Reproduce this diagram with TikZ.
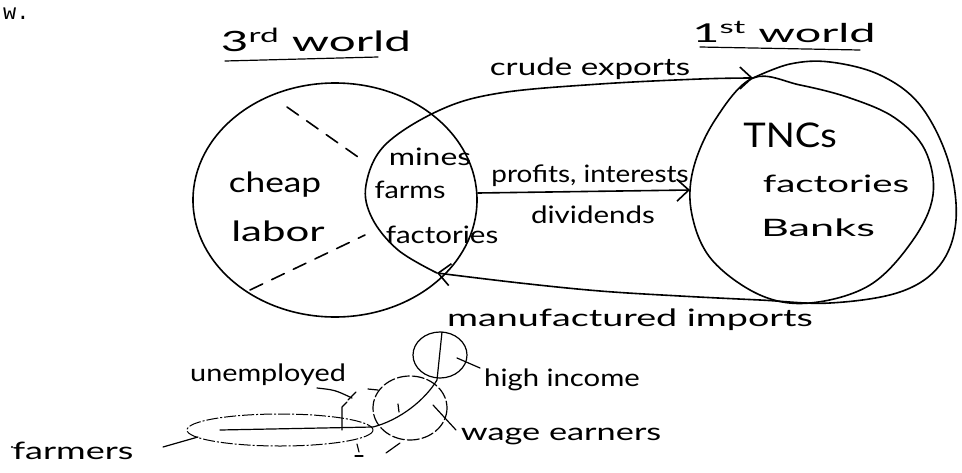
\documentclass[tikz,border=0pt]{standalone}
\usepackage{fontspec}
\setmainfont{Lato}
\newfontfamily\typefont{Liberation Mono}
\usetikzlibrary{arrows.meta}
\newcommand{\hs}[2]{\scalebox{#1}[1]{#2}}
\begin{document}
\begin{tikzpicture}[x=1pt,y=-1pt,
  pen/.style={line width=1.6pt, line cap=round, line join=round},
  thinpen/.style={line width=1.2pt, line cap=round, line join=round},
  lbl/.style={font=\fontsize{24}{26}\selectfont, inner sep=0pt},
  big/.style={font=\fontsize{34}{36}\selectfont, inner sep=0pt},
  tip/.style={-{Straight Barb[length=12pt,width=22pt,line width=1.6pt]}}
]
\useasboundingbox[fill=white] (0,0) rectangle (962,472);

% typed text fragment
\node[font=\typefont\fontsize{22}{24}\selectfont, anchor=base west, inner sep=0pt] (w) at (3,19) {w.};

% titles
\node[lbl, font=\fontsize{28}{30}\selectfont] (third) at (316,40) {\hs{1.7}{3\textsuperscript{rd} world}};
\draw[thinpen] (225,61) -- (378,57);
\node[lbl, font=\fontsize{26}{28}\selectfont] (first) at (784,32) {\hs{1.8}{1\textsuperscript{st} world}};
\draw[thinpen] (700,47) -- (860,50);

% 3rd world circle
\draw[pen] (335,200) ellipse [x radius=142, y radius=117];
\draw[pen, dash pattern=on 14pt off 10pt] (287,107) -- (358,157);
\draw[pen, dash pattern=on 14pt off 10pt] (250,290) -- (365,235);

% 1st world circle
\draw[pen] plot[smooth cycle, tension=0.6] coordinates {(753,78) (715,120) (693,170) (692,215) (712,260) (760,295) (810,303) (870,285) (913,240) (933,195) (925,150) (895,118) (850,98) (800,85)};

% loop: crude exports (top) and manufactured imports (bottom)
\coordinate (ce) at (753,78);
\coordinate (mi) at (437,273);
\draw[pen, tip] plot[smooth, tension=0.6] coordinates {(437,273) (398,250) (372,218) (366,185) (385,145) (440,110) (500,93) (600,84) (700,79) (753,78)};
\draw[pen, tip] plot[smooth, tension=0.6] coordinates {(753,78) (790,64) (830,62) (880,75) (920,105) (948,160) (956,220) (940,265) (900,292) (830,303) (760,300) (680,296) (600,291) (520,283) (437,273)};

% profits arrow
\coordinate (pa) at (478,193);
\coordinate (pb) at (690,190);
\draw[pen, tip] (pa) -- (pb);

% labels
\node[lbl] (crude) at (590,69) {\hs{1.38}{crude exports}};
\node[lbl] (profits) at (590,176) {\hs{1.16}{profits, interests}};
\node[lbl] (divid) at (593,215) {\hs{1.23}{dividends}};
\node[big] (tnc) at (790,135) {\hs{1.12}{TNCs}};
\node[lbl] (fact1) at (836,184) {\hs{1.6}{factories}};
\node[lbl] (banks) at (818,228) {\hs{1.8}{Banks}};
\node[lbl] (mines) at (430,157) {\hs{1.33}{mines}};
\node[lbl] (farms) at (410,190) {\hs{1.2}{farms}};
\node[lbl] (fact2) at (442,235) {\hs{1.23}{factories}};
\node[lbl, font=\fontsize{28}{30}\selectfont] (cheap) at (275,185) {\hs{1.26}{cheap}};
\node[lbl, font=\fontsize{28}{30}\selectfont] (labor) at (278,231) {\hs{1.5}{labor}};
\node[lbl] (manu) at (630,320) {\hs{1.57}{manufactured imports}};

% class structure sketch
\draw[thinpen] (440,355) ellipse [x radius=27, y radius=23];
\draw[thinpen, dash pattern=on 12pt off 3pt] (410,408) ellipse [x radius=37, y radius=32];
\draw[line width=1pt, dash pattern=on 12pt off 2pt on 2pt off 2pt] (280,430) ellipse [x radius=93, y radius=16];
\draw[thinpen] (442,332) -- (437,380) .. controls (425,400) and (400,420) .. (373,427) -- (220,430);
\draw[thinpen] (342,430) -- (342,407) -- (347,402);
\draw[thinpen] (317,388) .. controls (335,390) .. (352,398);
\draw[thinpen] (348,400) -- (356,392);
\draw[thinpen] (368,389) -- (378,390);
\draw[thinpen] (398,404) -- (399,412);
\draw[thinpen] (357,444) -- (359,452);
\draw[thinpen] (355,456) -- (363,456);
\draw[thinpen] (386,453) -- (400,443);

\node[lbl] (unemp) at (268,375) {\hs{1.2}{unemployed}};
\node[lbl] (high) at (562,380) {\hs{1.22}{high income}};
\node[lbl] (wage) at (561,436) {\hs{1.43}{wage earners}};
\node[lbl] (farmer) at (73,451) {\hs{1.5}{farmers}};
\fill (12,447) circle (1.2);

\coordinate (hi) at (480,368);
\coordinate (hc) at (457,358);
\draw[thinpen] (hc) -- (hi);
\coordinate (wa) at (433,405);
\coordinate (wb) at (456,430);
\draw[thinpen] (wa) -- (wb);
\coordinate (fa) at (163,447);
\coordinate (fb) at (198,437);
\draw[thinpen] (fa) -- (fb);
\end{tikzpicture}
\end{document}
